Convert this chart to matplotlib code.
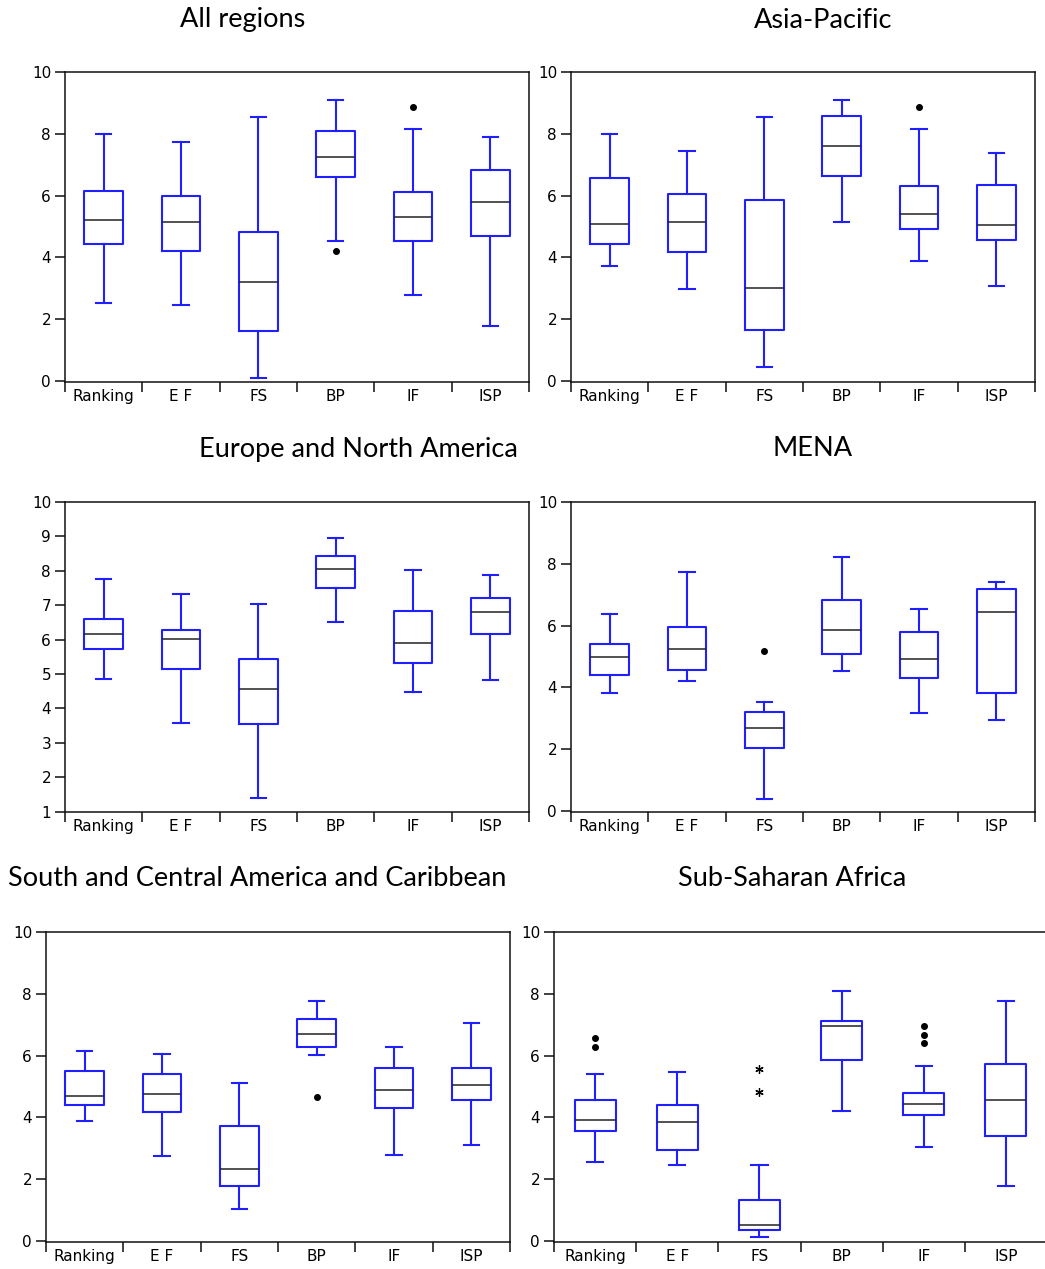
import matplotlib
matplotlib.use("Agg")
import matplotlib.pyplot as plt
import numpy as np

categories = ["Ranking", "E F", "FS", "BP", "IF", "ISP"]

titles = ["All regions", "Asia-Pacific", "Europe and North America", "MENA",
          "South and Central America and Caribbean", "Sub-Saharan Africa"]

# per-panel stats: each list in category order
# All regions
all_whislo = [2.54, 2.45, 0.11, 4.53, 2.79, 1.77]
all_q1     = [4.43, 4.21, 1.62, 6.61, 4.53, 4.68]
all_med    = [5.20, 5.16, 3.21, 7.26, 5.32, 5.79]
all_q3     = [6.16, 6.00, 4.82, 8.09, 6.12, 6.83]
all_whishi = [8.01, 7.75, 8.56, 9.11, 8.15, 7.89]
all_fliers = [[], [], [], [4.22], [8.88], []]

# Asia-Pacific
ap_whislo = [3.73, 2.97, 0.44, 5.16, 3.87, 3.09]
ap_q1     = [4.43, 4.16, 1.65, 6.63, 4.93, 4.56]
ap_med    = [5.09, 5.16, 3.02, 7.60, 5.42, 5.06]
ap_q3     = [6.57, 6.04, 5.86, 8.59, 6.30, 6.34]
ap_whishi = [8.01, 7.46, 8.56, 9.11, 8.15, 7.37]
ap_fliers = [[], [], [], [], [8.88], []]

# Europe and North America
eu_whislo = [4.87, 3.59, 1.41, 6.50, 4.49, 4.84]
eu_q1     = [5.74, 5.15, 3.55, 7.50, 5.31, 6.17]
eu_med    = [6.17, 6.01, 4.57, 8.06, 5.90, 6.80]
eu_q3     = [6.61, 6.27, 5.44, 8.43, 6.83, 7.20]
eu_whishi = [7.76, 7.33, 7.03, 8.95, 8.03, 7.89]
eu_fliers = [[], [], [], [], [], []]

# MENA
me_whislo = [3.81, 4.20, 0.40, 4.53, 3.17, 2.94]
me_q1     = [4.39, 4.56, 2.03, 5.08, 4.30, 3.83]
me_med    = [4.98, 5.23, 2.69, 5.86, 4.93, 6.45]
me_q3     = [5.40, 5.97, 3.21, 6.83, 5.78, 7.18]
me_whishi = [6.38, 7.75, 3.54, 8.22, 6.53, 7.41]
me_fliers = [[], [], [5.18], [], [], []]

# South and Central America and Caribbean
sa_whislo = [3.87, 2.76, 1.05, 6.01, 2.79, 3.10]
sa_q1     = [4.39, 4.16, 1.78, 6.27, 4.30, 4.57]
sa_med    = [4.69, 4.76, 2.33, 6.71, 4.90, 5.06]
sa_q3     = [5.49, 5.42, 3.72, 7.18, 5.61, 5.61]
sa_whishi = [6.16, 6.05, 5.12, 7.76, 6.27, 7.04]
sa_fliers = [[], [], [], [4.66], [], []]

# Sub-Saharan Africa
ss_whislo = [2.55, 2.47, 0.12, 4.21, 3.05, 1.78]
ss_q1     = [3.55, 2.96, 0.36, 5.87, 4.07, 3.39]
ss_med    = [3.91, 3.84, 0.52, 6.97, 4.43, 4.56]
ss_q3     = [4.56, 4.40, 1.33, 7.12, 4.79, 5.72]
ss_whishi = [5.42, 5.46, 2.47, 8.08, 5.67, 7.78]
ss_fliers = [[6.58, 6.29], [], [], [], [6.95, 6.66, 6.40], []]
ss_far    = [[], [], [5.56, 4.82], [], [], []]

panels = [
    (all_whislo, all_q1, all_med, all_q3, all_whishi, all_fliers, None),
    (ap_whislo, ap_q1, ap_med, ap_q3, ap_whishi, ap_fliers, None),
    (eu_whislo, eu_q1, eu_med, eu_q3, eu_whishi, eu_fliers, None),
    (me_whislo, me_q1, me_med, me_q3, me_whishi, me_fliers, None),
    (sa_whislo, sa_q1, sa_med, sa_q3, sa_whishi, sa_fliers, None),
    (ss_whislo, ss_q1, ss_med, ss_q3, ss_whishi, ss_fliers, ss_far),
]

# layout in pixels: left, right, top, bottom ; y-limits ; y-ticks
W, H = 1045, 1269
boxes_px = [
    (65, 529, 72, 382),
    (571, 1035, 72, 382),
    (65, 529, 502, 812),
    (571, 1035, 502, 812),
    (46, 510, 932, 1242),
    (554, 1047, 932, 1242),
]
ylims = [(-0.03, 10), (-0.03, 10), (0.99, 10), (-0.03, 10), (-0.03, 10), (-0.03, 10)]
yticks = [np.arange(0, 11, 2), np.arange(0, 11, 2), np.arange(1, 11, 1),
          np.arange(0, 11, 2), np.arange(0, 11, 2), np.arange(0, 11, 2)]
title_pos = [(243, 20), (823, 20), (358, 449), (813, 449), (257, 879), (792, 879)]

fig = plt.figure(figsize=(W / 100, H / 100), dpi=100)
blue = "#1f1fff"
tick_font = "DejaVu Sans"

for i, (lo, q1, med, q3, hi, fl, far) in enumerate(panels):
    l, r, t, b = boxes_px[i]
    ax = fig.add_axes([l / W, 1 - b / H, (r - l) / W, (b - t) / H])
    stats = []
    for k in range(len(categories)):
        stats.append(dict(med=med[k], q1=q1[k], q3=q3[k], whislo=lo[k],
                          whishi=hi[k], fliers=fl[k]))
    pos = np.arange(len(categories)) + 0.5
    ax.bxp(stats, positions=pos, widths=0.5, capwidths=0.2,
           boxprops=dict(color=blue, linewidth=1.5),
           whiskerprops=dict(color=blue, linewidth=1.5),
           capprops=dict(color=blue, linewidth=1.5),
           medianprops=dict(color="#222222", linewidth=1.1),
           flierprops=dict(marker="o", markerfacecolor="black",
                           markeredgecolor="black", markersize=4))
    if far is not None:
        for k in range(len(categories)):
            if far[k]:
                ax.plot([pos[k]] * len(far[k]), far[k], linestyle="none",
                        marker=(6, 2, 0), color="black", markersize=6,
                        markeredgewidth=0.9)
    ax.set_xlim(0, len(categories))
    ax.set_ylim(*ylims[i])
    ax.set_yticks(yticks[i])
    ax.set_yticklabels([str(v) for v in yticks[i]], fontsize=11,
                       family=tick_font)
    ax.set_xticks(np.arange(len(categories) + 1))
    ax.set_xticklabels([])
    ax.set_xticks(pos, minor=True)
    ax.set_xticklabels(categories, minor=True, fontsize=11, family=tick_font)
    ax.tick_params(axis="x", which="major", direction="out", length=7,
                   width=1.3, color="#333333")
    ax.tick_params(axis="x", which="minor", length=0, pad=5)
    ax.tick_params(axis="y", direction="out", length=7, width=1.3,
                   color="#333333", pad=3)
    for s in ax.spines.values():
        s.set_linewidth(1.1)
        s.set_color("#111111")
    tx, ty = title_pos[i]
    fig.text(tx / W, 1 - ty / H, titles[i], ha="center", va="center",
             fontsize=19.5, family="Lato")

fig.savefig("out.png", dpi=100)
